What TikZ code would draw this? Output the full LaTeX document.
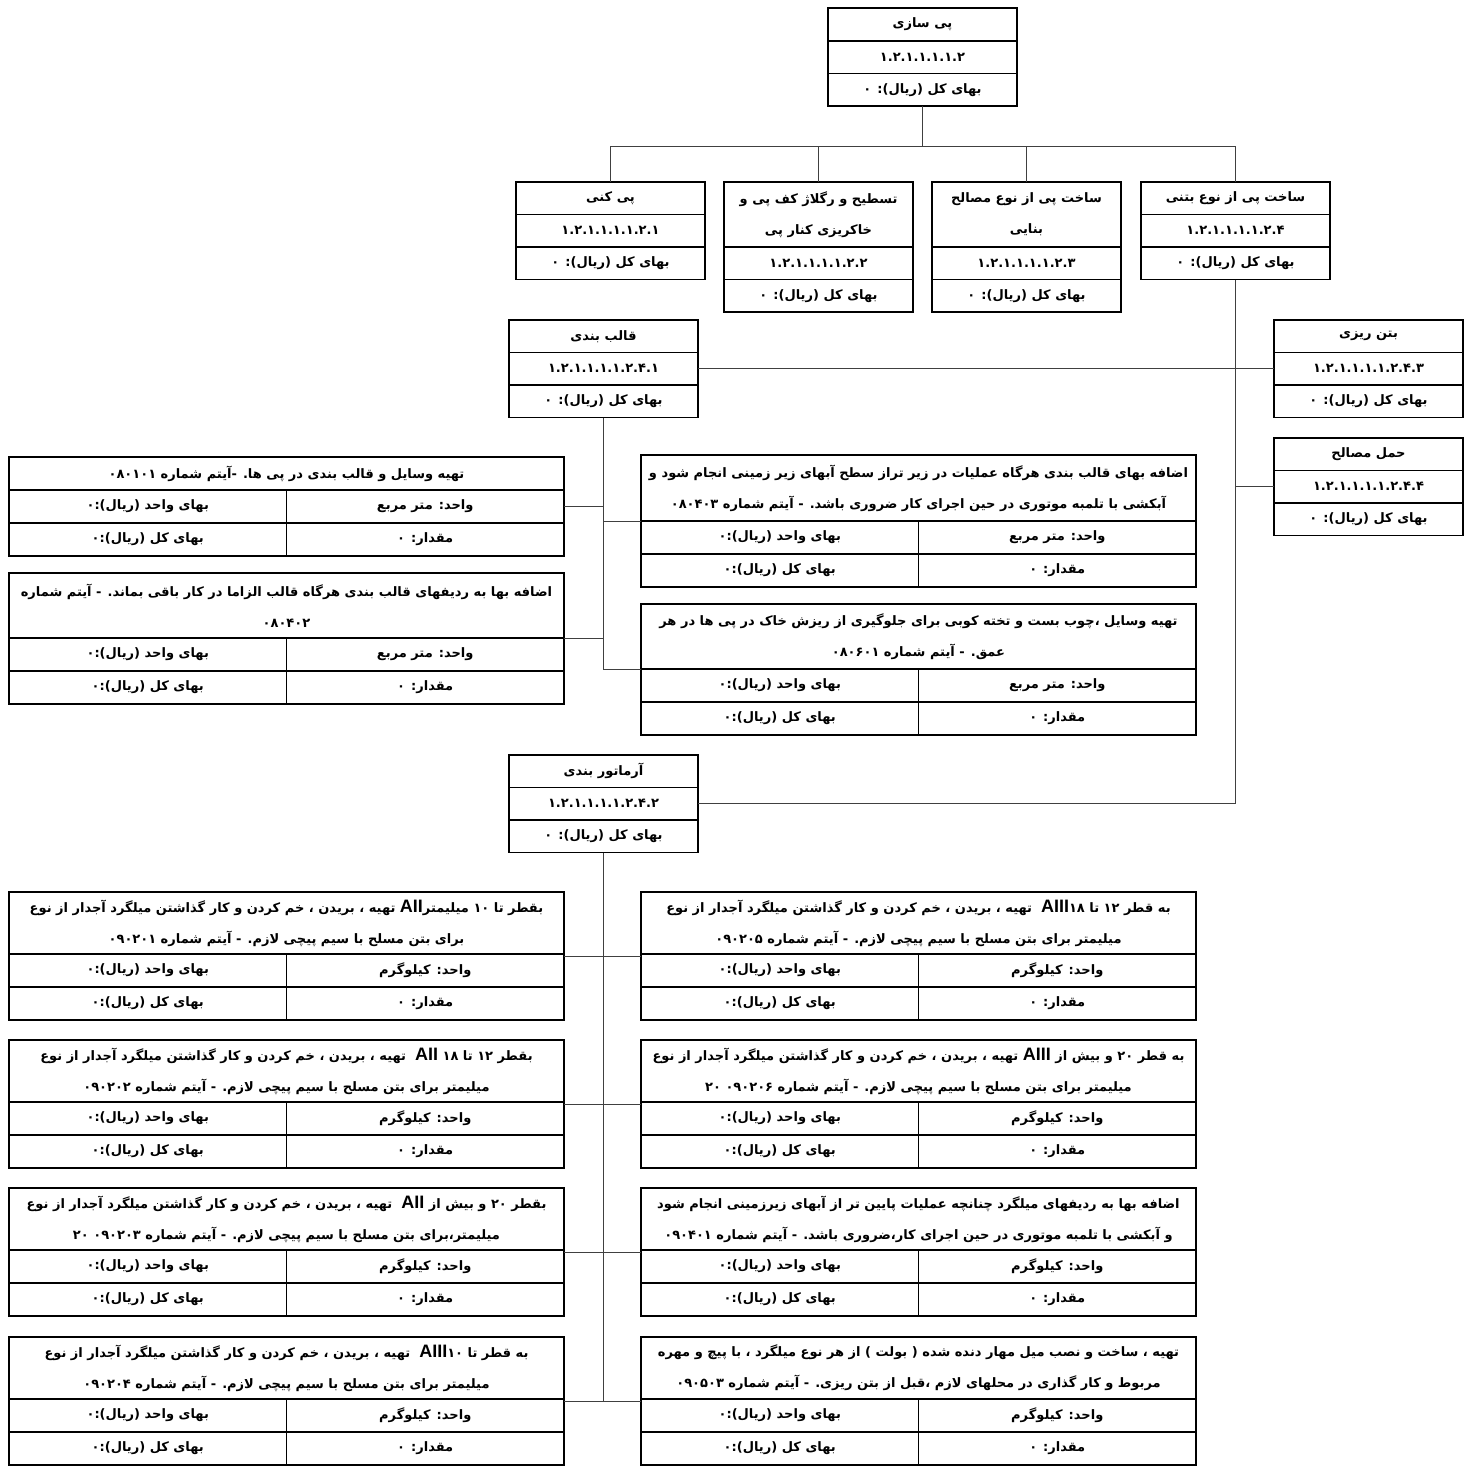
\documentclass[tikz,border=0pt]{standalone}
\usepackage{fontspec}
\usepackage{tikz}
\usetikzlibrary{positioning, fit}
\TeXXeTstate=1
\newfontfamily\fa[Script=Arabic]{DejaVu Sans}
\newfontfamily\la{Liberation Sans}
\newcommand\txt{\fa\bfseries\fontsize{13}{31}\selectfont}
\newcommand\rl[1]{\beginR #1\endR}
\newcommand\lat[1]{{\la\bfseries\fontsize{18}{31}\selectfont #1}}

% three-row box: name, x, y, title height, title, code
\newcommand\wbs[6]{%
  \node[wbstitle, minimum height=#4] (#1) at (#2,#3) {#5};
  \node[wbsrow, below=0pt of #1] (#1c) {#6};
  \node[wbsrow, below=0pt of #1c] (#1v) {\rl{بهای کل (ریال): ۰}};}

% price item: name, x, y, title height, title, unit cell
\newcommand\costitem[6]{%
  \node[itemtitle, minimum height=#4] (#1) at (#2,#3) {#5};
  \node[itemcell, anchor=north east] (#1u) at (#1.south east) {#6};
  \node[itemcell, anchor=north west] (#1p) at (#1.south west) {\rl{بهای واحد (ریال):۰}};
  \node[itemcell, below=0pt of #1u] (#1q) {\rl{مقدار: ۰}};
  \node[itemcell, below=0pt of #1p] (#1t) {\rl{بهای کل (ریال):۰}};
  \node[fit=(#1)(#1q)(#1t), inner sep=0pt] (#1box) {};}

\begin{document}
\begin{tikzpicture}[
    x=1pt, y=-1pt,
    wbstitle/.style={draw, line width=1.2pt, minimum width=189pt, minimum height=32.5pt, inner sep=0pt, outer sep=0pt, anchor=north west, align=center, font=\txt},
    wbsrow/.style={draw, line width=1.2pt, minimum width=189pt, minimum height=32.5pt, inner sep=0pt, outer sep=0pt, font=\txt},
    itemtitle/.style={draw, line width=1.2pt, minimum width=555pt, inner sep=0pt, outer sep=0pt, anchor=north west, align=center, font=\txt},
    itemcell/.style={draw, line width=1.2pt, minimum width=277.5pt, minimum height=33pt, inner sep=0pt, outer sep=0pt, font=\txt},
    link/.style={line width=0.8pt, black!75}
]
\useasboundingbox (0,0) rectangle (1481,1465);

% level 1
\wbs{ps}{828}{8}{33pt}{\rl{پی سازی}}{۱.۲.۱.۱.۱.۱.۲}

% level 2
\wbs{pk}{516}{182}{32.5pt}{\rl{پی کنی}}{۱.۲.۱.۱.۱.۱.۲.۱}
\wbs{ts}{724}{182}{65pt}{\rl{تسطیح و رگلاژ کف پی و}\\\rl{خاکریزی کنار پی}}{۱.۲.۱.۱.۱.۱.۲.۲}
\wbs{sb}{932}{182}{65pt}{\rl{ساخت پی از نوع مصالح}\\\rl{بنایی}}{۱.۲.۱.۱.۱.۱.۲.۳}
\wbs{bt}{1141}{182}{32.5pt}{\rl{ساخت پی از نوع بتنی}}{۱.۲.۱.۱.۱.۱.۲.۴}

% level 3
\wbs{qb}{509}{320}{32.5pt}{\rl{قالب بندی}}{۱.۲.۱.۱.۱.۱.۲.۴.۱}
\wbs{bz}{1274}{320}{32.5pt}{\rl{بتن ریزی}}{۱.۲.۱.۱.۱.۱.۲.۴.۳}
\wbs{hm}{1274}{438}{32.5pt}{\rl{حمل مصالح}}{۱.۲.۱.۱.۱.۱.۲.۴.۴}
\wbs{ar}{509}{755}{32.5pt}{\rl{آرماتور بندی}}{۱.۲.۱.۱.۱.۱.۲.۴.۲}

% formwork items
\costitem{u1}{9}{457}{33pt}{\rl{تهیه وسایل و قالب بندی در پی ها. -آیتم شماره ۰۸۰۱۰۱}}{\rl{واحد: متر مربع}}
\costitem{u2}{9}{573}{65pt}{\rl{اضافه بها به ردیفهای قالب بندی هرگاه قالب الزاما در کار باقی بماند. - آیتم شماره}\\\rl{۰۸۰۴۰۲}}{\rl{واحد: متر مربع}}
\costitem{u3}{641}{455}{66pt}{\rl{اضافه بهای قالب بندی هرگاه عملیات در زیر تراز سطح آبهای زیر زمینی انجام شود و}\\\rl{آبکشی با تلمبه موتوری در حین اجرای کار ضروری باشد. - آیتم شماره ۰۸۰۴۰۳}}{\rl{واحد: متر مربع}}
\costitem{u4}{641}{604}{65pt}{\rl{تهیه وسایل ،چوب بست و تخته کوبی برای جلوگیری از ریزش خاک در پی ها در هر}\\\rl{عمق. - آیتم شماره ۰۸۰۶۰۱}}{\rl{واحد: متر مربع}}

% rebar items
\costitem{d1}{9}{892}{62pt}{\rl{بقطر تا ۱۰ میلیمتر\lat{AII} تهیه ، بریدن ، خم کردن و کار گذاشتن میلگرد آجدار از نوع}\\\rl{برای بتن مسلح با سیم پیچی لازم. - آیتم شماره ۰۹۰۲۰۱}}{\rl{واحد: کیلوگرم}}
\costitem{d2}{9}{1040}{62pt}{\rl{بقطر ۱۲ تا ۱۸ \lat{AII}\ \ تهیه ، بریدن ، خم کردن و کار گذاشتن میلگرد آجدار از نوع}\\\rl{میلیمتر برای بتن مسلح با سیم پیچی لازم. - آیتم شماره ۰۹۰۲۰۲}}{\rl{واحد: کیلوگرم}}
\costitem{d3}{9}{1188}{62pt}{\rl{بقطر ۲۰ و بیش از \lat{AII}\ \ تهیه ، بریدن ، خم کردن و کار گذاشتن میلگرد آجدار از نوع}\\\rl{میلیمتر،برای بتن مسلح با سیم پیچی لازم. - آیتم شماره ۰۹۰۲۰۳ ۲۰}}{\rl{واحد: کیلوگرم}}
\costitem{d4}{9}{1337}{62pt}{\rl{به قطر تا ۱۰\lat{AIII}\ \ تهیه ، بریدن ، خم کردن و کار گذاشتن میلگرد آجدار از نوع}\\\rl{میلیمتر برای بتن مسلح با سیم پیچی لازم. - آیتم شماره ۰۹۰۲۰۴}}{\rl{واحد: کیلوگرم}}
\costitem{d5}{641}{892}{62pt}{\rl{به قطر ۱۲ تا ۱۸\lat{AIII}\ \ تهیه ، بریدن ، خم کردن و کار گذاشتن میلگرد آجدار از نوع}\\\rl{میلیمتر برای بتن مسلح با سیم پیچی لازم. - آیتم شماره ۰۹۰۲۰۵}}{\rl{واحد: کیلوگرم}}
\costitem{d6}{641}{1040}{62pt}{\rl{به قطر ۲۰ و بیش از \lat{AIII} تهیه ، بریدن ، خم کردن و کار گذاشتن میلگرد آجدار از نوع}\\\rl{میلیمتر برای بتن مسلح با سیم پیچی لازم. - آیتم شماره ۰۹۰۲۰۶ ۲۰}}{\rl{واحد: کیلوگرم}}
\costitem{d7}{641}{1188}{62pt}{\rl{اضافه بها به ردیفهای میلگرد چنانچه عملیات پایین تر از آبهای زیرزمینی انجام شود}\\\rl{و آبکشی با تلمبه موتوری در حین اجرای کار،ضروری باشد. - آیتم شماره ۰۹۰۴۰۱}}{\rl{واحد: کیلوگرم}}
\costitem{d8}{641}{1337}{62pt}{\rl{تهیه ، ساخت و نصب میل مهار دنده شده ( بولت ) از هر نوع میلگرد ، با پیچ و مهره}\\\rl{مربوط و کار گذاری در محلهای لازم ،قبل از بتن ریزی. - آیتم شماره ۰۹۰۵۰۳}}{\rl{واحد: کیلوگرم}}

% connectors
\path (psv.south) ++(0,40) coordinate (bus);
\draw[link] (psv.south) -- (bus);
\draw[link] (bus) -| (pk.north);
\draw[link] (bus) -| (ts.north);
\draw[link] (bus) -| (sb.north);
\draw[link] (bus) -| (bt.north);

\draw[link] (btv.south) |- (arc.east);
\draw[link] (qbc.east) -- (bzc.west);
\draw[link] (hmc.west) -- (hmc.west -| btv.south);

\draw[link] (qbv.south) |- (u4box.west);
\draw[link] (u1box.east) -- (u1box.east -| qbv.south);
\draw[link] (u2box.east) -- (u2box.east -| qbv.south);
\draw[link] (u3box.west) -- (u3box.west -| qbv.south);

\draw[link] (arv.south) |- (d8box.west);
\draw[link] (d4box.east) -- (d4box.east -| arv.south);
\foreach \k in {1,2,3} {
  \draw[link] (d\k box.east) -- (d\k box.east -| arv.south);
}
\foreach \k in {5,6,7} {
  \draw[link] (d\k box.west) -- (d\k box.west -| arv.south);
}
\end{tikzpicture}
\end{document}
